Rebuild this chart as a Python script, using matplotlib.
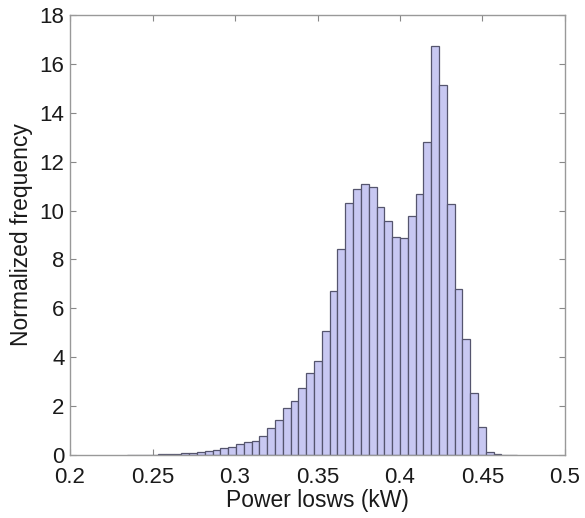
import numpy as np
import matplotlib
matplotlib.use("Agg")
import matplotlib.pyplot as plt

# Histogram data (normalized frequency per bin), 50 bins
bin_lo = 0.2344
bin_hi = 0.4709
heights = [0.005, 0.01, 0.01, 0.02, 0.03, 0.04, 0.05, 0.07, 0.08, 0.11,
           0.15, 0.19, 0.27, 0.34, 0.44, 0.52, 0.59, 0.79, 1.12, 1.45,
           1.93, 2.20, 2.73, 3.36, 3.84, 5.07, 6.69, 8.44, 10.33, 10.90,
           11.08, 10.97, 10.14, 9.56, 8.92, 8.88, 9.77, 10.67, 12.80, 16.75,
           15.15, 10.25, 6.78, 4.73, 2.54, 1.13, 0.14, 0.03, 0.02, 0.01]
xticks = [0.2, 0.25, 0.3, 0.35, 0.4, 0.45, 0.5]
yticks = [0, 2, 4, 6, 8, 10, 12, 14, 16, 18]

plt.rcParams['font.family'] = ['Liberation Sans', 'DejaVu Sans']

fig = plt.figure(figsize=(5.85, 5.18), dpi=100)
ax = fig.add_axes([0.1197, 0.1216, 0.8461, 0.8494])

edges = np.linspace(bin_lo, bin_hi, len(heights) + 1)
ax.bar(edges[:-1], heights, width=np.diff(edges), align='edge',
       color='#c8c8f2', edgecolor='#55556e', linewidth=0.9)

ax.set_xlim(0.2, 0.5)
ax.set_ylim(0, 18)
ax.set_xticks(xticks)
ax.set_xticklabels([f"{t:g}" for t in xticks])
ax.set_yticks(yticks)
ax.set_axisbelow(True)
ax.tick_params(direction='in', length=4, width=0.8, color='#888888',
               labelsize=16, labelcolor='#1a1a1a', top=True, right=True)
ax.tick_params(axis='x', pad=8.5)
ax.tick_params(axis='y', pad=4)
for s in ax.spines.values():
    s.set_color('#999999')
    s.set_linewidth(1.0)

ax.set_xlabel('Power losws (kW)', fontsize=16.5, color='#1a1a1a', labelpad=1)
ax.set_ylabel('Normalized frequency', fontsize=16.5, color='#1a1a1a', labelpad=5)

fig.savefig('out.png', dpi=100)
